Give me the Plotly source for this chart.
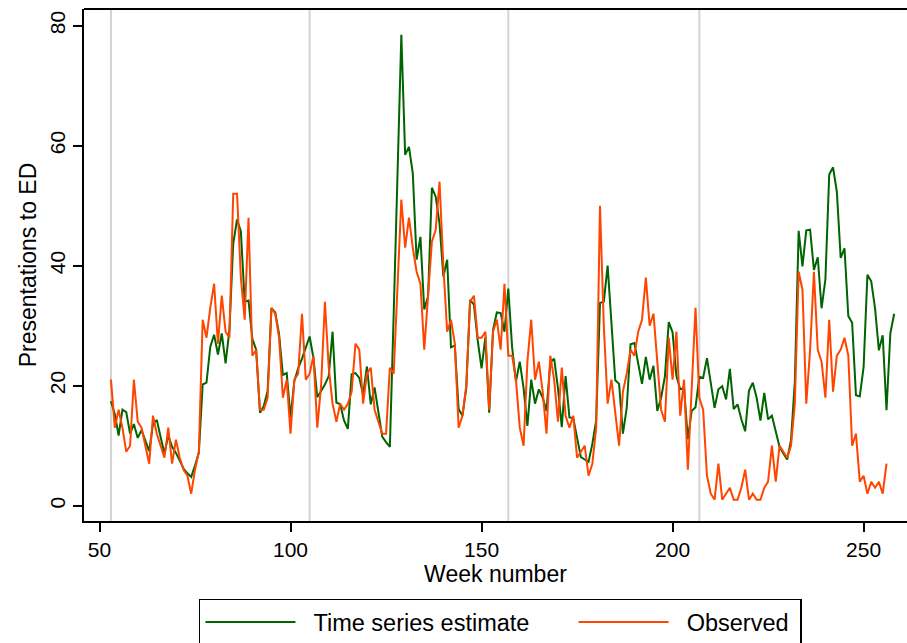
import plotly.graph_objects as go

start_week = 53

estimate = [
    17.4, 15.3, 11.7, 16.0, 15.6, 12.0, 13.6, 11.3, 12.6, 10.9,   # 53-62
    9.1, 13.6, 14.3, 11.4, 8.7, 11.7, 9.8, 8.8, 7.6, 6.2,         # 63-72
    5.4, 4.8, 6.7, 8.8, 20.2, 20.5, 26.5, 28.5, 25.2, 28.7,       # 73-82
    23.7, 29.3, 43.7, 47.7, 45.7, 34.0, 34.2, 27.8, 26.0, 15.5,   # 83-92
    16.6, 19.1, 32.9, 32.2, 28.6, 21.8, 22.1, 14.7, 20.8, 22.9,   # 93-102
    24.5, 26.5, 28.2, 24.6, 18.1, 19.1, 20.2, 21.6, 29.0, 17.2,   # 103-112
    16.9, 14.2, 12.8, 21.9, 22.1, 21.3, 18.5, 23.2, 16.9, 19.7,   # 113-122
    15.3, 11.5, 10.6, 9.8, 32.0, 55.5, 78.5, 58.5, 59.8, 55.4,    # 123-132
    41.0, 44.8, 32.7, 34.9, 53.0, 51.5, 47.0, 38.2, 41.0, 26.4,   # 133-142
    26.7, 16.1, 15.0, 19.6, 34.3, 33.5, 27.5, 22.9, 28.1, 15.5,   # 143-152
    29.3, 32.2, 32.1, 29.0, 36.2, 26.4, 20.7, 24.0, 19.6, 13.3,   # 153-162
    21.0, 17.0, 19.4, 18.0, 15.8, 23.9, 24.5, 19.6, 13.1, 21.6,   # 163-172
    14.7, 14.6, 11.4, 8.1, 7.7, 7.3, 10.3, 14.2, 33.8, 34.0,      # 173-182
    40.0, 30.3, 20.9, 20.3, 12.0, 16.3, 26.9, 27.1, 23.6, 20.3,   # 183-192
    24.8, 21.0, 23.3, 15.8, 18.0, 21.6, 30.6, 28.9, 21.6, 19.4,   # 193-202
    19.6, 11.1, 15.8, 16.4, 21.5, 21.3, 24.6, 20.7, 16.3, 19.4,   # 203-212
    19.9, 17.7, 22.8, 16.1, 16.9, 14.4, 12.4, 19.2, 20.5, 18.0,   # 213-222
    14.2, 18.8, 14.4, 15.0, 12.2, 9.8, 8.7, 7.7, 10.9, 20.7,      # 223-232
    45.8, 39.9, 45.9, 46.0, 39.3, 41.4, 32.9, 37.7, 55.2, 56.4,   # 233-242
    52.3, 41.3, 42.9, 31.6, 30.5, 18.4, 18.2, 23.1, 38.5, 37.4,   # 243-252
    32.9, 25.9, 28.4, 15.9, 28.7, 32.0,                           # 253-258
]

observed = [
    21, 13, 16, 13, 9, 10, 21, 14, 13, 10,     # 53-62
    7, 15, 12, 10, 8, 13, 7, 11, 8, 6,         # 63-72
    5, 2, 6, 9, 31, 28, 33, 37, 27, 35,        # 73-82
    29, 28, 52, 52, 38, 31, 48, 25, 26, 16,    # 83-92
    16, 18, 33, 32, 28, 18, 21, 12, 21, 22,    # 93-102
    32, 21, 22, 25, 13, 20, 34, 23, 17, 14,    # 103-112
    17, 16, 17, 19, 27, 26, 17, 22, 23, 16,    # 113-122
    14, 12, 12, 23, 22, 36, 51, 43, 48, 43,    # 123-132
    39, 37, 26, 35, 44, 46, 54, 40, 29, 31,    # 133-142
    27, 13, 15, 20, 34, 35, 28, 28, 29, 16,    # 143-152
    29, 31, 26, 37, 25, 25, 21, 13, 10, 24,    # 153-162
    31, 21, 24, 19, 12, 25, 21, 14, 23, 15,    # 163-172
    13, 15, 8, 9, 10, 5, 7, 13, 50, 30,        # 173-182
    17, 21, 15, 10, 19, 22, 26, 25, 29, 31,    # 183-192
    38, 30, 32, 24, 16, 14, 28, 21, 29, 15,    # 193-202
    21, 6, 19, 33, 18, 16, 5, 2, 1, 7,         # 203-212
    1, 2, 3, 1, 1, 3, 6, 1, 2, 1,              # 213-222
    1, 3, 4, 10, 4, 10, 9, 8, 10, 17,          # 223-232
    39, 36, 17, 26, 39, 26, 24, 18, 31, 19,    # 233-242
    25, 26, 28, 25, 10, 12, 4, 5, 2, 4,        # 243-252
    3, 4, 2, 7,                                # 253-256
]

weeks_est = list(range(start_week, start_week + len(estimate)))
weeks_obs = list(range(start_week, start_week + len(observed)))

year_lines = [53, 105, 157, 207]
x_ticks = [50, 100, 150, 200, 250]
y_ticks = [0, 20, 40, 60, 80]
series_names = ["Time series estimate", "Observed"]

GREEN = "#006400"
ORANGE = "#FF4500"
FONT = "Liberation Sans, Arial, Helvetica, sans-serif"
NB = "\u00a0"

fig = go.Figure()
fig.add_trace(go.Scatter(x=weeks_est, y=estimate, mode="lines",
                         name=NB * 2 + series_names[0] + NB * 6,
                         line=dict(color=GREEN, width=2)))
fig.add_trace(go.Scatter(x=weeks_obs, y=observed, mode="lines",
                         name=NB * 2 + series_names[1] + NB,
                         line=dict(color=ORANGE, width=2)))

shapes = []
for w in year_lines:
    shapes.append(dict(type="line", xref="x", yref="paper", x0=w, x1=w, y0=0, y1=1,
                       line=dict(color="#d3d3d3", width=2), layer="below"))
shapes.append(dict(type="line", xref="paper", yref="paper", x0=0, x1=1, y0=1, y1=1,
                   line=dict(color="black", width=2)))

fig.update_layout(
    width=907, height=643,
    margin=dict(l=84, r=0, t=9, b=122, autoexpand=False),
    paper_bgcolor="white", plot_bgcolor="white",
    font=dict(family=FONT, color="black", size=20),
    shapes=shapes,
    showlegend=True,
    legend=dict(orientation="h", x=0.506, xanchor="center",
                yref="container", y=0.069, yanchor="top",
                bordercolor="black", borderwidth=1.5, bgcolor="white",
                font=dict(size=23.5, family=FONT), itemwidth=90,
                traceorder="normal"),
    xaxis=dict(range=[45.94, 261.36], tickvals=x_ticks, ticks="outside", ticklen=9,
               tickwidth=1.5, tickcolor="black", showline=True, linecolor="black",
               linewidth=2, showgrid=False, zeroline=False, automargin=False,
               tickfont=dict(size=21), title=dict(text="Week number", font=dict(size=23), standoff=1)),
    yaxis=dict(range=[-2.55, 82.78], tickvals=y_ticks, ticks="outside", ticklen=9,
               tickwidth=1.5, tickcolor="black", showline=True, linecolor="black",
               linewidth=2, showgrid=False, zeroline=False, tickangle=-90, automargin=False,
               tickfont=dict(size=21), title=dict(text="Presentations to ED", font=dict(size=23), standoff=3)),
)

fig.write_html("out.html")
